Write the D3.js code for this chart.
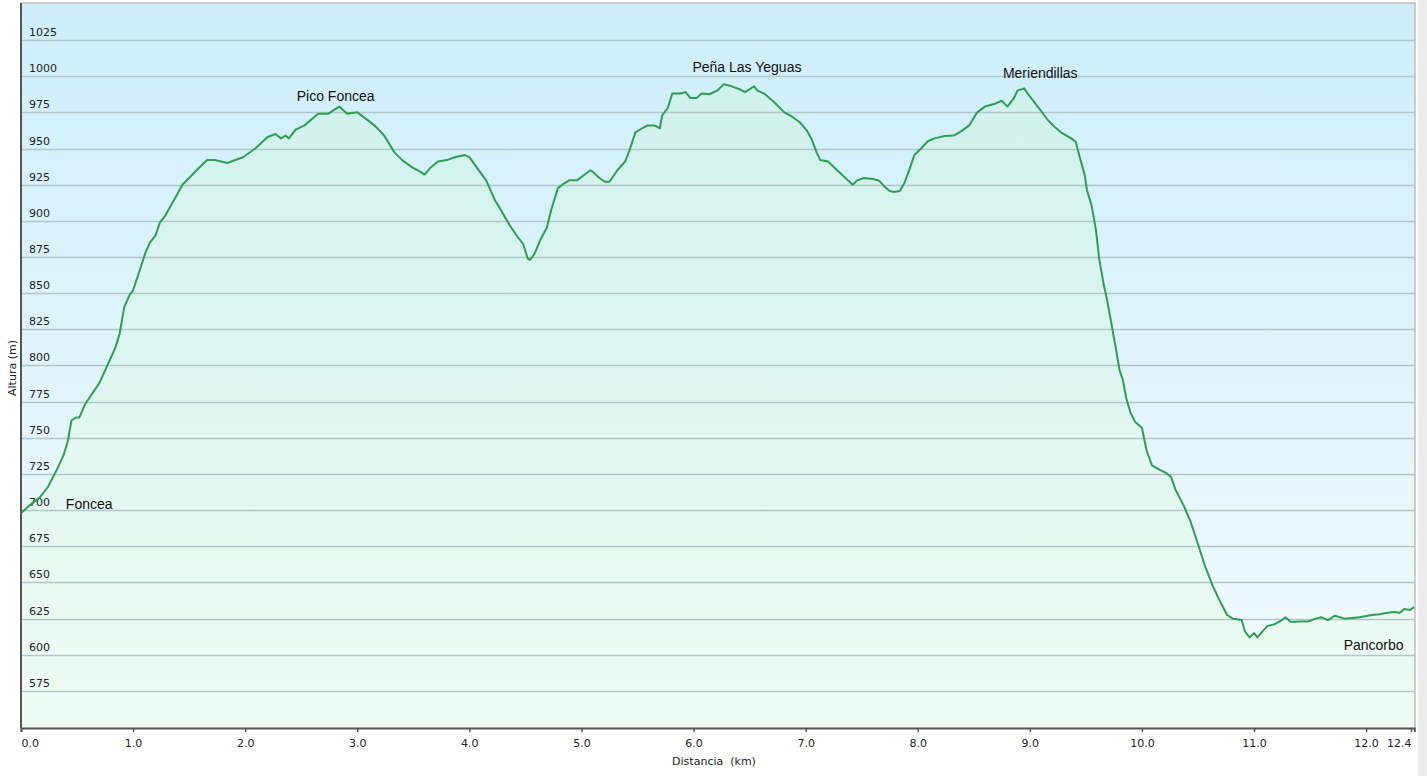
<!DOCTYPE html>
<html>
<head>
<meta charset="utf-8">
<script src="https://cdn.jsdelivr.net/npm/d3@7"></script>
<style>
  html, body { margin: 0; padding: 0; background: #ffffff; }
  svg { display: block; }
</style>
</head>
<body>
<svg id="chart" width="1427" height="776"></svg>
<script>
// ---- data ----
const distanceKm = [0,0.08,0.17,0.24,0.32,0.38,0.42,0.45,0.49,0.52,0.57,0.63,0.70,0.77,0.84,0.88,0.92,0.97,1.00,1.06,1.11,1.15,1.20,1.24,1.29,1.38,1.44,1.50,1.58,1.66,1.73,1.84,1.98,2.09,2.20,2.27,2.32,2.36,2.39,2.45,2.53,2.65,2.74,2.80,2.84,2.91,3.00,3.07,3.16,3.24,3.33,3.40,3.49,3.56,3.60,3.65,3.72,3.80,3.87,3.96,4.00,4.07,4.15,4.23,4.30,4.36,4.43,4.48,4.52,4.54,4.58,4.64,4.69,4.73,4.79,4.83,4.89,4.96,5.03,5.08,5.10,5.16,5.21,5.25,5.32,5.39,5.43,5.48,5.54,5.59,5.65,5.70,5.72,5.77,5.81,5.88,5.93,5.97,6.03,6.07,6.14,6.21,6.27,6.34,6.41,6.46,6.52,6.54,6.57,6.63,6.72,6.81,6.88,6.95,7.01,7.05,7.10,7.13,7.20,7.26,7.35,7.42,7.46,7.52,7.60,7.66,7.70,7.75,7.79,7.84,7.88,7.93,7.97,8.03,8.09,8.15,8.24,8.32,8.39,8.46,8.53,8.60,8.69,8.75,8.80,8.86,8.89,8.95,9.00,9.06,9.10,9.16,9.22,9.28,9.37,9.41,9.44,9.49,9.51,9.55,9.59,9.62,9.66,9.69,9.73,9.77,9.80,9.83,9.86,9.90,9.94,10.00,10.04,10.09,10.16,10.21,10.26,10.30,10.37,10.43,10.49,10.56,10.63,10.69,10.76,10.81,10.89,10.92,10.96,11.00,11.03,11.08,11.12,11.18,11.25,11.28,11.33,11.40,11.48,11.55,11.60,11.66,11.72,11.81,11.94,12.05,12.12,12.19,12.25,12.30,12.34,12.39,12.43];
const elevationM = [698,703.5,709,716,728,738,748.5,762,764,764,773,780,788,800,812,822,840,849,852,866,878,885,890,899,904,916.5,925,929.6,936,942,942,940,944,950,958,960,957,959,957,963,966,974,974,977,979,974,975,971,965.5,959,947.5,942,937,934,932,936.5,941,942,944,945.5,944,936.5,928,914,905,897,889,884,874,873,877,888,895,907.5,922.6,925,928,928,932,935,934,929.6,927,927,935,941,949,961,964,966,966,964,973,978,988,988,989,985,985,988,987.5,990,994.5,993,991,989,992,993,990,988,982,975,972,968,962.6,957,947,942,941,936.5,930,925,928,929.6,929,927.5,924,920.6,920,920.6,926,936.5,945.5,950,955,957,958.6,959,962,966,975,979,981,983,979,985,990,991.6,986,980,976,969.7,965,961,957,954.5,945.5,931.6,921,911,893.6,873,855.6,845,828,810.7,797,790,777.5,767,761,757,741.6,731,727.8,726,723,714,703.6,693,679,662,648,638,627.5,625,624,616,612,615,612,616.5,620,621,624,626,622.7,623,623,625,626,624,627,625,626,627.5,628,629,629.6,629,631.7,631,633];
const yTicks = [575,600,625,650,675,700,725,750,775,800,825,850,875,900,925,950,975,1000,1025];
const xTicks = [0,1,2,3,4,5,6,7,8,9,10,11,12,12.4];
const xTickLabels = ["0.0","1.0","2.0","3.0","4.0","5.0","6.0","7.0","8.0","9.0","10.0","11.0","12.0","12.4"];
const placeNames = ["Foncea","Pico Foncea","Peña Las Yeguas","Meriendillas","Pancorbo"];
const placeKm = [0.40,2.46,5.99,8.76,11.80];
const placeM = [700.8,982.8,1002.9,998.7,603.3];

// ---- layout ----
const W = 1427, H = 776;
const pLeft = 21, pTop = 3, pRight = 1415, pBottom = 728;
const svg = d3.select("#chart");

const x = d3.scaleLinear().domain([0, 12.43]).range([pLeft, pRight - 0.7]);
const y = d3.scaleLinear().domain([549.4, 1050.6]).range([pBottom, pTop]);

const defs = svg.append("defs");
const bgGrad = defs.append("linearGradient").attr("id","bgGrad").attr("x1",0).attr("y1",0).attr("x2",0).attr("y2",1);
bgGrad.append("stop").attr("offset","0%").attr("stop-color","#cdeefa");
bgGrad.append("stop").attr("offset","100%").attr("stop-color","#f4fbfd");
const areaGrad = defs.append("linearGradient").attr("id","areaGrad")
  .attr("gradientUnits","userSpaceOnUse").attr("x1",0).attr("y1",pTop).attr("x2",0).attr("y2",pBottom);
areaGrad.append("stop").attr("offset","0%").attr("stop-color","#cdf0ec");
areaGrad.append("stop").attr("offset","100%").attr("stop-color","#effcf3");

// right gray strip
svg.append("rect").attr("x",1418).attr("y",0).attr("width",9).attr("height",H).attr("fill","#ececec");

// plot background
svg.append("rect").attr("x",pLeft).attr("y",pTop).attr("width",pRight-pLeft).attr("height",pBottom-pTop)
  .attr("fill","url(#bgGrad)");

const data = distanceKm.map((d,i)=>({km:d, m:elevationM[i]}));

// area
const area = d3.area().x(d=>x(d.km)).y0(pBottom).y1(d=>y(d.m));
svg.append("path").datum(data).attr("d",area).attr("fill","url(#areaGrad)");

// grid lines
svg.append("g").selectAll("line").data(yTicks).join("line")
  .attr("x1",pLeft).attr("x2",pRight)
  .attr("y1",d=>Math.round(y(d))+0.5).attr("y2",d=>Math.round(y(d))+0.5)
  .attr("stroke","#b3c7cb").attr("stroke-width",1.5);

// y tick labels (inside plot, above line)
svg.append("g").selectAll("text").data(yTicks).join("text")
  .attr("x",29).attr("y",d=>Math.round(y(d))-4)
  .attr("font-family","DejaVu Sans, Verdana, sans-serif").attr("font-size",11)
  .attr("fill","#222").text(d=>d);

// elevation line
const line = d3.line().x(d=>x(d.km)).y(d=>y(d.m));
svg.append("path").datum(data).attr("d",line).attr("fill","none")
  .attr("stroke","#2f9e55").attr("stroke-width",2).attr("stroke-linejoin","round");

// plot border top/right
svg.append("path").attr("d",`M${pLeft},${pTop}H${pRight}V${pBottom}`).attr("fill","none")
  .attr("stroke","#bdbdbd").attr("stroke-width",1.5);

// x axis
const xAxis = d3.axisBottom(x).tickValues(xTicks).tickSize(4).tickFormat((d,i)=>xTickLabels[i]);
const gx = svg.append("g").attr("transform",`translate(0,${pBottom})`).call(xAxis);
gx.select(".domain").attr("stroke","#555").attr("stroke-width",2);
gx.selectAll(".tick line").attr("stroke","#555").attr("stroke-width",1.5);
gx.selectAll(".tick text").attr("font-family","DejaVu Sans, Verdana, sans-serif").attr("font-size",11)
  .attr("fill","#222").attr("dy","1.1em")
  .attr("text-anchor",(d,i)=> i===0 ? "start" : (i===xTicks.length-1 ? "end" : "middle"));

// y axis line
svg.append("line").attr("x1",pLeft).attr("x2",pLeft).attr("y1",pTop).attr("y2",pBottom)
  .attr("stroke","#555").attr("stroke-width",2);

// axis titles
svg.append("text").attr("x",714).attr("y",765).attr("text-anchor","middle")
  .attr("font-family","DejaVu Sans, Verdana, sans-serif").attr("font-size",11).attr("fill","#222")
  .attr("xml:space","preserve").text("Distancia  (km)");
svg.append("text").attr("transform","translate(16,368) rotate(-90)").attr("text-anchor","middle")
  .attr("font-family","DejaVu Sans, Verdana, sans-serif").attr("font-size",11).attr("fill","#222")
  .text("Altura (m)");

// place annotations
svg.append("g").selectAll("text").data(placeNames).join("text")
  .attr("x",(d,i)=>x(placeKm[i])).attr("y",(d,i)=>y(placeM[i]))
  .attr("font-family","Liberation Sans, Arial, sans-serif").attr("font-size",14)
  .attr("fill","#111").text(d=>d);
</script>
</body>
</html>
